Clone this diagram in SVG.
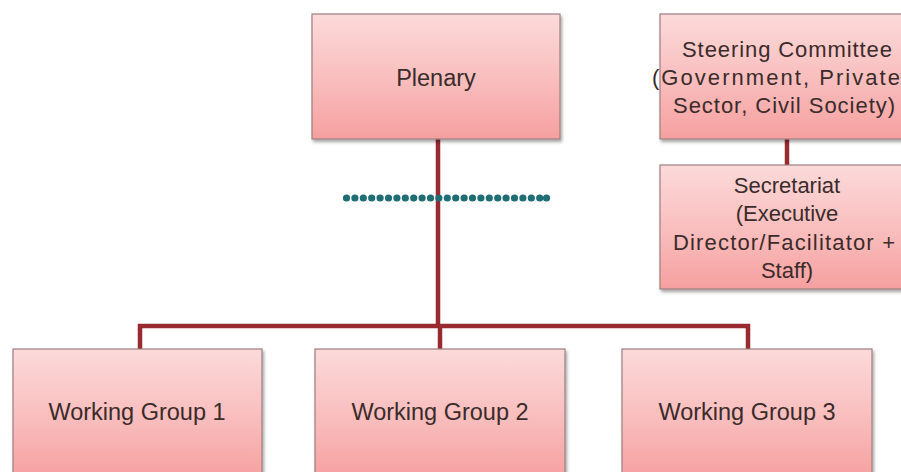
<svg xmlns="http://www.w3.org/2000/svg" width="901" height="472" viewBox="0 0 901 472">
<defs>
<linearGradient id="g" x1="0" y1="0" x2="0" y2="1">
<stop offset="0" stop-color="#fcdada"/>
<stop offset="0.55" stop-color="#f9bcbc"/>
<stop offset="1" stop-color="#f6a0a0"/>
</linearGradient>
<filter id="sh" x="-5%" y="-5%" width="112%" height="115%">
<feDropShadow dx="1.5" dy="2.5" stdDeviation="1.8" flood-color="#000" flood-opacity="0.35"/>
</filter>
</defs>
<style>
.box{fill:url(#g);stroke:#9c7f7f;stroke-width:1.2;filter:url(#sh)}
.t{font-family:"Liberation Sans",Arial,sans-serif;font-size:22px;fill:#3b2b2b;text-anchor:middle}
.big{font-size:23.5px}
.ln{stroke:#982a30;stroke-width:4.5;fill:none}
.dot{fill:#1f6d75}
</style>
<rect width="901" height="472" fill="#fff"/>
<g id="connectors">
<path class="ln" d="M438 139 V326 M140 349 V326 H748 V349 M440 326 V349"/>
<path class="ln" d="M787 139 V165"/>
</g>
<g id="plenary">
<rect class="box" x="312" y="14" width="248" height="125"/>
<text class="t big" x="436" y="86">Plenary</text>
</g>
<g id="steering">
<rect class="box" x="660" y="14" width="254" height="125"/>
<text class="t" x="787" y="57" textLength="210" lengthAdjust="spacing">Steering Committee</text>
<text class="t" x="776" y="85" textLength="248" lengthAdjust="spacing">(Government, Private</text>
<text class="t" x="784" y="113" textLength="222" lengthAdjust="spacing">Sector, Civil Society)</text>
</g>
<g id="secretariat">
<rect class="box" x="660" y="165" width="254" height="124"/>
<text class="t" x="787" y="193">Secretariat</text>
<text class="t" x="787" y="221">(Executive</text>
<text class="t" x="784" y="250" textLength="222" lengthAdjust="spacing">Director/Facilitator +</text>
<text class="t" x="787" y="278">Staff)</text>
</g>
<g id="wg1">
<rect class="box" x="13" y="349" width="249" height="130"/>
<text class="t big" x="137" y="420">Working Group 1</text>
</g>
<g id="wg2">
<rect class="box" x="315" y="349" width="250" height="130"/>
<text class="t big" x="440" y="420">Working Group 2</text>
</g>
<g id="wg3">
<rect class="box" x="622" y="349" width="250" height="130"/>
<text class="t big" x="747" y="420">Working Group 3</text>
</g>
<g id="dotted-line">
<circle class="dot" cx="346.5" cy="198" r="3.6"/><circle class="dot" cx="354.9" cy="198" r="3.6"/><circle class="dot" cx="363.3" cy="198" r="3.6"/><circle class="dot" cx="371.7" cy="198" r="3.6"/><circle class="dot" cx="380.1" cy="198" r="3.6"/><circle class="dot" cx="388.5" cy="198" r="3.6"/><circle class="dot" cx="396.9" cy="198" r="3.6"/><circle class="dot" cx="405.3" cy="198" r="3.6"/><circle class="dot" cx="413.7" cy="198" r="3.6"/><circle class="dot" cx="422.1" cy="198" r="3.6"/><circle class="dot" cx="430.5" cy="198" r="3.6"/><circle class="dot" cx="438.9" cy="198" r="3.6"/><circle class="dot" cx="447.3" cy="198" r="3.6"/><circle class="dot" cx="455.7" cy="198" r="3.6"/><circle class="dot" cx="464.1" cy="198" r="3.6"/><circle class="dot" cx="472.5" cy="198" r="3.6"/><circle class="dot" cx="480.9" cy="198" r="3.6"/><circle class="dot" cx="489.3" cy="198" r="3.6"/><circle class="dot" cx="497.7" cy="198" r="3.6"/><circle class="dot" cx="506.1" cy="198" r="3.6"/><circle class="dot" cx="514.5" cy="198" r="3.6"/><circle class="dot" cx="522.9" cy="198" r="3.6"/><circle class="dot" cx="531.3" cy="198" r="3.6"/><circle class="dot" cx="539.7" cy="198" r="3.6"/><circle class="dot" cx="546.5" cy="198" r="3.6"/>
</g>
</svg>
